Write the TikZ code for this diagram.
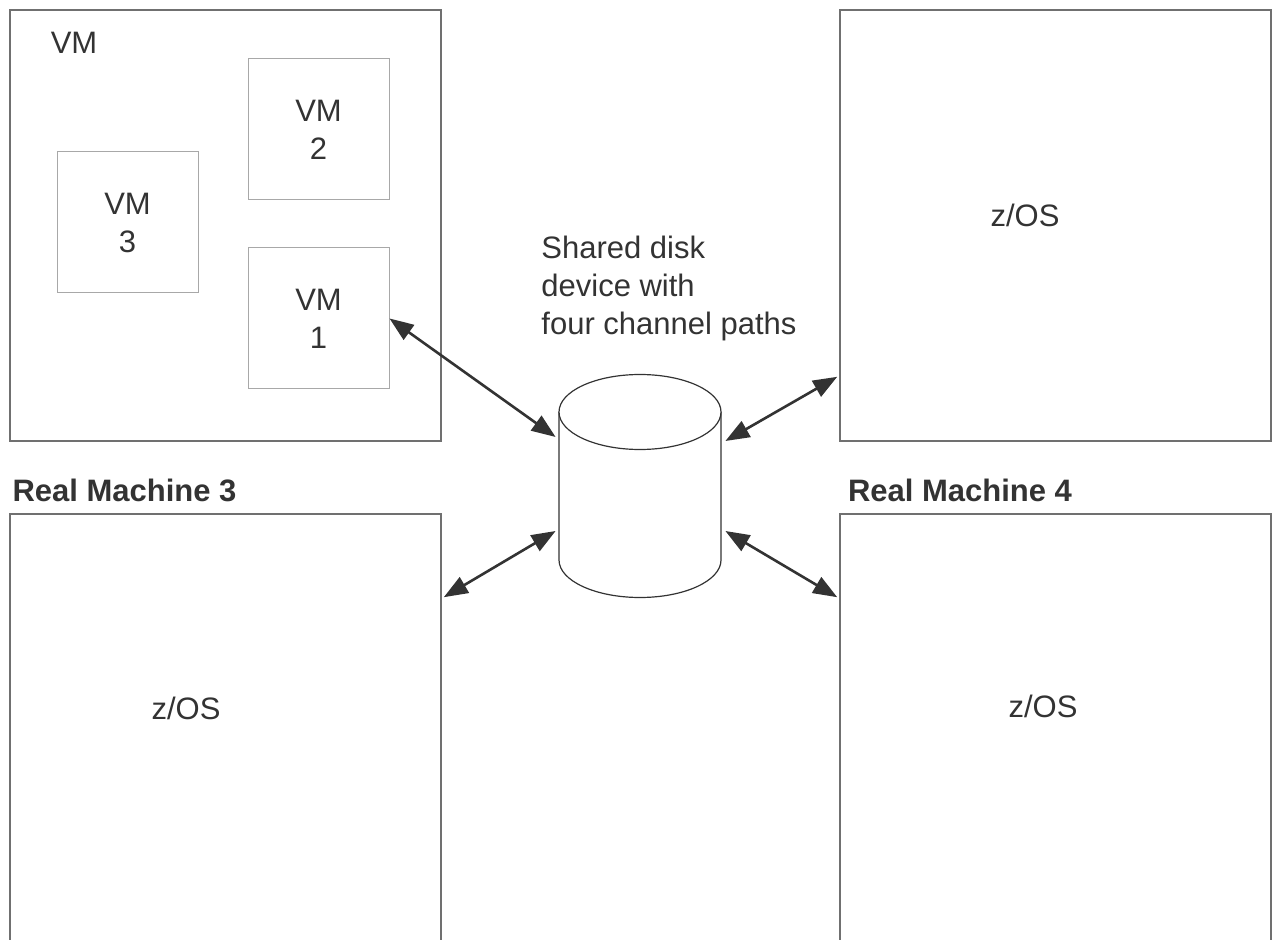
\documentclass[tikz,border=0pt]{standalone}
\usepackage{fontspec}
\setmainfont{Liberation Sans}
\usetikzlibrary{positioning, arrows.meta, calc}

\definecolor{inkgray}{HTML}{333333}
\definecolor{boxgray}{HTML}{707070}
\definecolor{guestgray}{HTML}{A8A8A8}

\begin{document}
\begin{tikzpicture}[
        x=0.5pt, y=-0.5pt,
        every node/.style={text=inkgray, font=\fontsize{15.5pt}{19pt}\selectfont},
        machine/.style={draw=boxgray, line width=0.8pt, minimum width=215.5pt, minimum height=215.5pt, inner sep=0pt},
        realbox/.style={machine, minimum height=223pt},
        guest/.style={draw=guestgray, line width=0.5pt, minimum width=70.5pt, minimum height=70.5pt, align=center, inner sep=0pt},
        title/.style={font=\fontsize{15.5pt}{19pt}\selectfont\bfseries, inner sep=0pt},
        link/.style={draw=inkgray, line width=1.3pt, {Triangle[length=12pt, width=9pt]}-{Triangle[length=12pt, width=9pt]}}
    ]

    \useasboundingbox (0,0) rectangle (1272,940);
    \clip (0,0) rectangle (1272,940);

    % machine running VM
    \node (vmhost) [machine] at (225.5,225.5) {};
    \node (vmtag) at (74,43) {VM};
    \node (vm2) [guest] at (318.5,129.5) {VM\\2};
    \node (vm3) [guest] at (127.5,222.5) {VM\\3};
    \node (vm1) [guest] at (318.5,318.5) {VM\\1};

    % the other machines
    \node (zosa) [machine] at (1055.5,225.5) {};
    \node (zosatext) at (1025,215) {z/OS};

    \node (rm3) [title] at (124.5,490) {Real Machine 3};
    \node (zosb) [realbox] at (225.5,737) {};
    \node (zosbtext) at (186,708) {z/OS};

    \node (rm4) [title] at (960,490) {Real Machine 4};
    \node (zosc) [realbox] at (1055.5,737) {};
    \node (zosctext) at (1043,706) {z/OS};

    % shared disk
    \node (disk) [minimum width=81pt, minimum height=111pt, inner sep=0pt] at (640,485) {};
    \draw[inkgray, line width=0.6pt, fill=white] (559,412) -- (559,560)
        arc[start angle=180, end angle=360, x radius=40.5pt, y radius=18.75pt] -- (721,412);
    \draw[inkgray, line width=0.6pt, fill=white] (640,412) ellipse [x radius=40.5pt, y radius=18.75pt];
    \node (disktext) [align=left, anchor=west, inner sep=0pt] at (541,288) {Shared disk\\device with\\four channel paths};

    % channel paths
    \draw[link] (vm1.east) -- ($(disk.west)+(-3,-48)$);
    \draw[link] ($(disk.east)+(4,-44)$) -- ($(zosa.south west)+(-2,-65)$);
    \draw[link] ($(zosb.north east)+(2,84)$) -- ($(disk.west)+(-3,46)$);
    \draw[link] ($(disk.east)+(4,46)$) -- ($(zosc.north west)+(-2,84)$);

\end{tikzpicture}
\end{document}
